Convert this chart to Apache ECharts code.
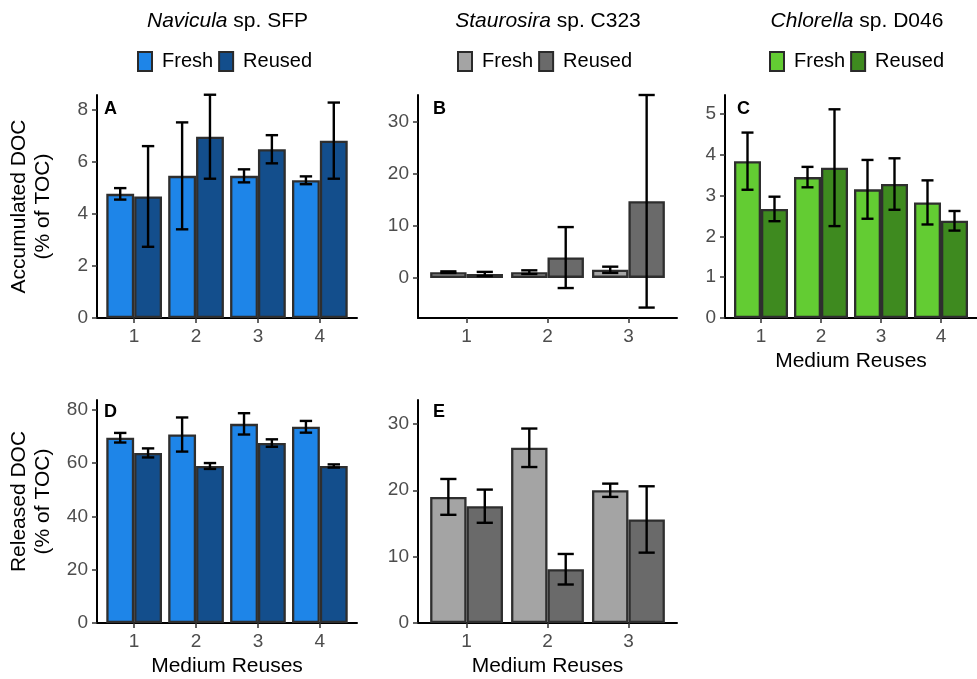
<!DOCTYPE html>
<html><head><meta charset="utf-8">
<script src="https://cdn.jsdelivr.net/npm/echarts@6/dist/echarts.min.js"></script>
<style>html,body{margin:0;padding:0;background:#fff}#c{width:977px;height:679px}</style>
</head><body><div id="c"></div>
<script>
// ---- data ----
const reuses4 = [1, 2, 3, 4];
const reuses3 = [1, 2, 3];

// A: Navicula, accumulated DOC (% of TOC)
const accNaviculaFresh = [4.76, 5.45, 5.45, 5.28];
const accNaviculaFreshSd = [0.22, 2.05, 0.25, 0.15];
const accNaviculaReused = [4.66, 6.95, 6.47, 6.80];
const accNaviculaReusedSd = [1.93, 1.61, 0.54, 1.46];
// B: Staurosira, accumulated DOC
const accStaurosiraFresh = [1.1, 1.1, 1.55];
const accStaurosiraFreshSd = [0.15, 0.35, 0.6];
const accStaurosiraReused = [0.75, 3.9, 14.7];
const accStaurosiraReusedSd = [0.4, 5.85, 20.4];
// C: Chlorella, accumulated DOC
const accChlorellaFresh = [3.84, 3.45, 3.15, 2.83];
const accChlorellaFreshSd = [0.70, 0.25, 0.72, 0.54];
const accChlorellaReused = [2.67, 3.68, 3.28, 2.38];
const accChlorellaReusedSd = [0.30, 1.43, 0.63, 0.24];
// D: Navicula, released DOC
const relNaviculaFresh = [69.5, 70.7, 74.7, 73.6];
const relNaviculaFreshSd = [1.8, 6.4, 4.0, 2.2];
const relNaviculaReused = [63.8, 58.9, 67.5, 58.9];
const relNaviculaReusedSd = [1.7, 1.1, 1.4, 0.6];
// E: Staurosira, released DOC
const relStaurosiraFresh = [19.0, 26.4, 20.0];
const relStaurosiraFreshSd = [2.7, 2.9, 1.0];
const relStaurosiraReused = [17.6, 8.1, 15.6];
const relStaurosiraReusedSd = [2.5, 2.3, 5.0];

const yTicksA = [0, 2, 4, 6, 8];
const yTicksB = [0, 10, 20, 30];
const yTicksC = [0, 1, 2, 3, 4, 5];
const yTicksD = [0, 20, 40, 60, 80];
const yTicksE = [0, 10, 20, 30];

const seriesNames = ['Fresh', 'Reused'];
const xAxisTitle = 'Medium Reuses';

// ---- styling / layout ----
const FONT = '"Liberation Sans", Arial, Helvetica, sans-serif';
const BLUE = ['#1E85E8', '#134E8C'];
const GRAY = ['#A4A4A4', '#6A6A6A'];
const GREEN = ['#63CC33', '#3E8A1F'];

const panels = [
  {grid: {left: 97, right: 620, top: 95, bottom: 361}, cats: reuses4,
   f: accNaviculaFresh, fs: accNaviculaFreshSd, r: accNaviculaReused, rs: accNaviculaReusedSd,
   yMin: 0, yMax: 8.55, yTicks: yTicksA, colors: BLUE, xName: '', yName: 'Accumulated DOC\n(% of TOC)', yPad: 0},
  {grid: {left: 418, right: 300, top: 95, bottom: 361}, cats: reuses3,
   f: accStaurosiraFresh, fs: accStaurosiraFreshSd, r: accStaurosiraReused, rs: accStaurosiraReusedSd,
   yMin: -7.7, yMax: 35.1, yTicks: yTicksB, colors: GRAY, xName: '', yName: ''},
  {grid: {left: 725, right: -8, top: 95, bottom: 361}, cats: reuses4,
   f: accChlorellaFresh, fs: accChlorellaFreshSd, r: accChlorellaReused, rs: accChlorellaReusedSd,
   yMin: 0, yMax: 5.46, yTicks: yTicksC, colors: GREEN, xName: xAxisTitle, yName: ''},
  {grid: {left: 97, right: 620, top: 400, bottom: 56}, cats: reuses4,
   f: relNaviculaFresh, fs: relNaviculaFreshSd, r: relNaviculaReused, rs: relNaviculaReusedSd,
   yMin: 0, yMax: 83.65, yTicks: yTicksD, colors: BLUE, xName: xAxisTitle, yName: 'Released DOC\n(% of TOC)', yPad: 20},
  {grid: {left: 418, right: 300, top: 400, bottom: 56}, cats: reuses3,
   f: relStaurosiraFresh, fs: relStaurosiraFreshSd, r: relStaurosiraReused, rs: relStaurosiraReusedSd,
   yMin: 0, yMax: 33.6, yTicks: yTicksE, colors: GRAY, xName: xAxisTitle, yName: ''}
];

const DODGE = 0.225, CAP = 0.1;
function makeErr(off) {
  return function (params, api) {
    const x = api.value(0) + off, m = api.value(1), s = api.value(2);
    const t = api.coord([x, m + s]), b = api.coord([x, m - s]);
    const tl = api.coord([x - CAP, m + s]), tr = api.coord([x + CAP, m + s]);
    const bl = api.coord([x - CAP, m - s]), br = api.coord([x + CAP, m - s]);
    const st = {stroke: '#000', lineWidth: 2.4};
    return {type: 'group', children: [
      {type: 'line', shape: {x1: t[0], y1: t[1], x2: b[0], y2: b[1]}, style: st},
      {type: 'line', shape: {x1: tl[0], y1: tl[1], x2: tr[0], y2: tr[1]}, style: st},
      {type: 'line', shape: {x1: bl[0], y1: bl[1], x2: br[0], y2: br[1]}, style: st}
    ]};
  };
}

const grids = [], xAxes = [], yAxes = [], series = [];
panels.forEach((p, i) => {
  grids.push(Object.assign({containLabel: false}, p.grid));
  const n = p.cats.length;
  xAxes.push({
    type: 'value', gridIndex: i, min: 0.4, max: n + 0.6,
    splitLine: {show: false},
    axisLine: {show: true, onZero: false, lineStyle: {color: '#000', width: 2}},
    axisTick: {show: true, customValues: p.cats, length: 5, lineStyle: {color: '#333', width: 1.5}},
    axisLabel: {customValues: p.cats, color: '#4d4d4d', fontSize: 19, margin: 9, fontFamily: FONT},
    name: p.xName, nameLocation: 'middle', nameGap: 33,
    nameTextStyle: {color: '#000', fontSize: 21, fontFamily: FONT}
  });
  yAxes.push({
    type: 'value', gridIndex: i, min: p.yMin, max: p.yMax,
    splitLine: {show: false},
    axisLine: {show: true, onZero: false, lineStyle: {color: '#000', width: 2}},
    axisTick: {show: true, customValues: p.yTicks, length: 5, lineStyle: {color: '#333', width: 1.5}},
    axisLabel: {customValues: p.yTicks, color: '#4d4d4d', fontSize: 19, margin: 9, fontFamily: FONT},
    name: p.yName, nameLocation: 'middle', nameRotate: 90, nameGap: 42,
    nameTextStyle: {color: '#000', fontSize: 21, lineHeight: 24, fontFamily: FONT, align: 'center',
      padding: [0, 0, 0, p.yPad || 0]}
  });
  const mk = (vals) => p.cats.map((c, k) => [c, vals[k]]);
  const mkE = (vals, sds) => p.cats.map((c, k) => [c, vals[k], sds[k]]);
  series.push({type: 'bar', name: seriesNames[0], xAxisIndex: i, yAxisIndex: i, data: mk(p.f),
    barWidth: '45%', barGap: '0%', itemStyle: {color: p.colors[0], borderColor: '#2e2e2e', borderWidth: 2.3}});
  series.push({type: 'bar', name: seriesNames[1], xAxisIndex: i, yAxisIndex: i, data: mk(p.r),
    barWidth: '45%', barGap: '0%', itemStyle: {color: p.colors[1], borderColor: '#2e2e2e', borderWidth: 2.3}});
  series.push({type: 'custom', xAxisIndex: i, yAxisIndex: i, renderItem: makeErr(-DODGE),
    data: mkE(p.f, p.fs), encode: {x: 0, y: 1}, z: 5, silent: true});
  series.push({type: 'custom', xAxisIndex: i, yAxisIndex: i, renderItem: makeErr(DODGE),
    data: mkE(p.r, p.rs), encode: {x: 0, y: 1}, z: 5, silent: true});
});

function legendFor(left, colors) {
  return {
    left: left, top: 51, padding: 0, itemWidth: 24, itemHeight: 19, itemGap: 5,
    icon: 'path://M0,0 L14,0 L14,19 L0,19 Z', selectedMode: false,
    textStyle: {fontSize: 20, color: '#000', fontFamily: FONT},
    data: seriesNames.map((nm, k) => ({name: nm, itemStyle: {color: colors[k], borderColor: '#2a2a2a', borderWidth: 2}}))
  };
}

function titleText(x, italicPart, rest) {
  return {type: 'text', x: x, y: 21, style: {
    text: '{i|' + italicPart + '}{n|' + rest + '}', align: 'center', verticalAlign: 'middle',
    rich: {
      i: {fontStyle: 'italic', fontSize: 21, fontFamily: FONT, fill: '#000'},
      n: {fontSize: 21, fontFamily: FONT, fill: '#000'}
    }}};
}
function letter(x, y, t) {
  return {type: 'text', x: x, y: y, style: {text: t, fontSize: 18, fontWeight: 'bold', fontFamily: FONT,
    fill: '#000', align: 'left', verticalAlign: 'middle'}};
}

const option = {
  animation: false,
  backgroundColor: '#fff',
  grid: grids, xAxis: xAxes, yAxis: yAxes, series: series,
  legend: [legendFor(137, BLUE), legendFor(457, GRAY), legendFor(769, GREEN)],
  graphic: [
    titleText(227.5, 'Navicula', ' sp. SFP'),
    titleText(548, 'Staurosira', ' sp. C323'),
    titleText(857, 'Chlorella', ' sp. D046'),
    letter(104, 109, 'A'), letter(433, 109, 'B'), letter(737, 109, 'C'),
    letter(104, 412, 'D'), letter(433, 412, 'E')
  ]
};
const chart = echarts.init(document.getElementById('c'), null, {renderer: 'canvas'});
chart.setOption(option);
</script></body></html>
